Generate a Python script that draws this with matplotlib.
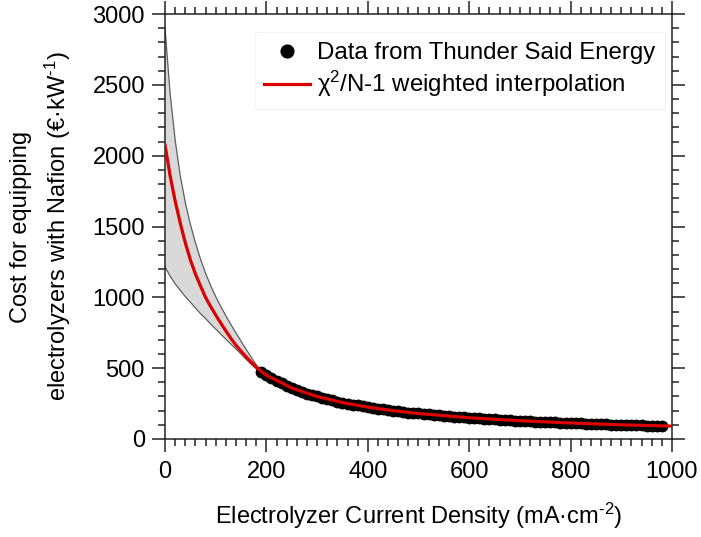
import matplotlib
matplotlib.use("Agg")
import matplotlib.pyplot as plt
from matplotlib.ticker import MultipleLocator

plt.rcParams['font.family'] = ['Liberation Sans', 'DejaVu Sans']
plt.rcParams['mathtext.fontset'] = 'custom'
plt.rcParams['mathtext.rm'] = 'Liberation Sans'
plt.rcParams['mathtext.it'] = 'Liberation Sans:italic'

# Данные (Thunder Said Energy)
data_x = [190, 200, 210, 220, 230, 240, 250, 260, 270, 280, 290, 300, 310, 320,
          330, 340, 350, 360, 370, 380, 390, 400, 410, 420, 430, 440, 450, 460,
          470, 480, 490, 500, 510, 520, 530, 540, 550, 560, 570, 580, 590, 600,
          610, 620, 630, 640, 650, 660, 670, 680, 690, 700, 710, 720, 730, 740,
          750, 760, 770, 780, 790, 800, 810, 820, 830, 840, 850, 860, 870, 880,
          890, 900, 910, 920, 930, 940, 950, 960, 970, 980]
data_y = [470, 452, 430, 410, 392, 375, 360, 346, 333, 321, 310, 300, 290, 281,
          272, 264, 257, 250, 243, 237, 231, 225, 219, 214, 209, 204, 200, 196,
          191, 187, 183, 180, 176, 173, 170, 167, 164, 161, 158, 155, 152, 150,
          148, 145, 143, 141, 138, 136, 134, 132, 130, 129, 127, 125, 123, 122,
          120, 118, 117, 115, 114, 113, 111, 110, 108, 107, 106, 105, 103, 102,
          101, 100, 99, 98, 97, 96, 95, 94, 93, 92]

# Взвешенная интерполяция (красная линия)
fit_x = [0, 10, 20, 30, 40, 50, 60, 70, 80, 90, 100, 110, 120, 130, 140, 150,
         160, 170, 180, 190, 200, 250, 300, 350, 400, 450, 500, 600, 700, 800,
         900, 1000]
fit_y = [2075, 1860, 1680, 1525, 1385, 1265, 1165, 1080, 1000, 935, 875, 818,
         763, 710, 662, 620, 580, 543, 508, 477, 450, 360, 300, 257, 225, 200,
         180, 150, 129, 113, 100, 91]

# Доверительная полоса
band_x = [0, 10, 20, 30, 40, 50, 60, 70, 80, 90, 100, 110, 120, 130, 140, 150,
          160, 170, 180, 190]
band_hi = [2900, 2440, 2110, 1860, 1670, 1515, 1385, 1270, 1170, 1083, 1005,
           935, 870, 808, 748, 690, 633, 578, 523, 477]
band_lo = [1215, 1150, 1095, 1050, 1005, 965, 925, 885, 850, 812, 776, 740,
           705, 670, 635, 600, 562, 527, 495, 477]

fig = plt.figure(figsize=(7.01, 5.37), dpi=100)
ax = fig.add_axes([0.2354, 0.1825, 0.7232, 0.7914])

ax.fill_between(band_x, band_lo, band_hi, color='#d9d9d9', lw=0, zorder=1)
ax.plot(band_x, band_hi, color='#606060', lw=0.9, zorder=2)
ax.plot(band_x, band_lo, color='#606060', lw=0.9, zorder=2)

ax.plot(data_x, data_y, 'o', color='black', ms=8.5, mew=0, zorder=3,
        label='Data from Thunder Said Energy')
ax.plot(fit_x, fit_y, color='#dd0000', lw=2.3, zorder=4,
        label='χ$^{2}$/N-1 weighted interpolation')

ax.set_xlim(0, 1000)
ax.set_ylim(0, 3000)
ax.xaxis.set_major_locator(MultipleLocator(200))
ax.xaxis.set_minor_locator(MultipleLocator(20))
ax.yaxis.set_major_locator(MultipleLocator(500))
ax.yaxis.set_minor_locator(MultipleLocator(100))

ax.tick_params(which='both', direction='out', top=True, right=True,
               width=1.1, color='#222222')
ax.tick_params(which='major', length=9.5, labelsize=17)
ax.tick_params(axis='x', which='major', pad=6)
ax.tick_params(axis='y', which='major', pad=5)
ax.tick_params(which='minor', length=4.8)
for s in ax.spines.values():
    s.set_linewidth(1.1)
    s.set_color('#222222')

ax.set_xlabel('Electrolyzer Current Density (mA·cm$^{\\text{-2}}$)',
              fontsize=17, labelpad=13)
ax.set_ylabel('Cost for equipping\nelectrolyzers with Nafion (€·kW$^{\\text{-1}}$)',
              fontsize=17, labelpad=14, linespacing=1.45)

leg = ax.legend(loc='upper right', bbox_to_anchor=(1.01, 0.985), fontsize=17.3,
                frameon=True, fancybox=False, edgecolor='#f2f2f2',
                handlelength=1.9, handletextpad=0.3, labelspacing=0.2,
                borderpad=0.4, markerscale=1.2)
leg.get_frame().set_linewidth(0.8)

fig.savefig('out.png', dpi=100, facecolor='white')
